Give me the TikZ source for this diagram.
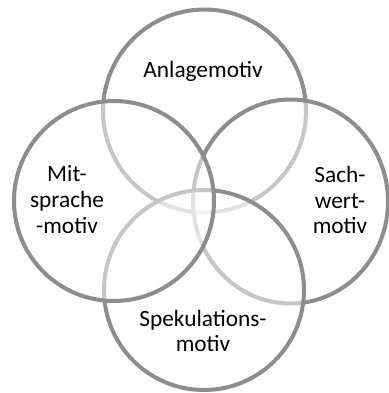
\documentclass[tikz,border=0pt]{standalone}
\usepackage{fontspec}
\setmainfont{Carlito}
\usepackage{tikz}

\tikzset{
  ring/.style={draw=ringgray, line width=3pt, fill=white, fill opacity=0.5},
  motiv/.style={align=center, inner sep=0pt, font=\fontsize{17.5}{19.3}\selectfont}
}
\definecolor{ringgray}{RGB}{141,141,141}

\begin{document}
\begin{tikzpicture}[x=0.75pt, y=-0.75pt]
  \useasboundingbox (0,0) rectangle (389,393);

    \draw[ring] (204.5,111) circle (101.5);
    \draw[ring] (290.5,201.5) ellipse (97.5 and 102);
    \draw[ring] (204,290) circle (100);
    \draw[ring] (114,201) circle (100);

    \draw (203,71) node[motiv] (anlage) {Anlagemotiv};
    \draw (67,199.5) node[motiv] (mitsprache) {Mit-\\sprache\\-motiv};
    \draw (340,200) node[motiv] (sachwert) {Sach-\\wert-\\motiv};
    \draw (203,331) node[motiv] (spekulation) {Spekulations-\\motiv};

\end{tikzpicture}
\end{document}
